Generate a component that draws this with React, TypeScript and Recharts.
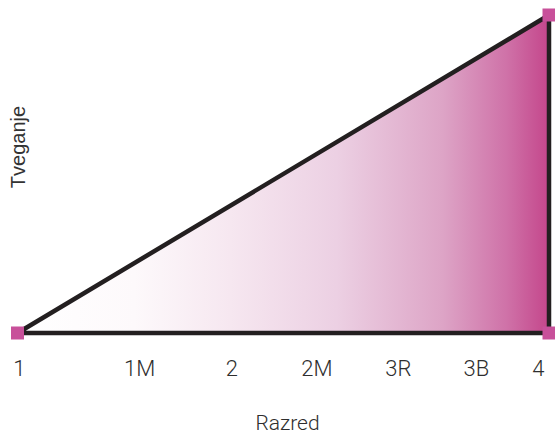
import React from 'react';
import { ComposedChart, Area, Line, Scatter, XAxis, YAxis } from 'recharts';

const areaData = [
  { x: 1, y: 0 },
  { x: 4, y: 1 },
];

const outlineData = [
  { x: 1, y: 0 },
  { x: 4, y: 1 },
  { x: 4, y: 0 },
  { x: 1, y: 0 },
];

const markerData = [
  { x: 1, y: 0 },
  { x: 4, y: 1 },
  { x: 4, y: 0 },
];

const tickValues = [1.01, 1.69, 2.21, 2.69, 3.15, 3.59, 3.94];
const tickLabels = ['1', '1M', '2', '2M', '3R', '3B', '4'];
const xTitle = 'Razred';
const yTitle = 'Tveganje';

const TickLabel = (props: any) => {
  const { x, payload } = props;
  const idx = tickValues.indexOf(payload.value);
  return (
    <text
      x={x}
      y={376}
      textAnchor="middle"
      fontFamily="Roboto"
      fontWeight={300}
      fontSize={22}
      fill="#2e2e2e"
    >
      {tickLabels[idx]}
    </text>
  );
};

const Square = (props: any) => {
  const { cx, cy } = props;
  return <rect x={cx - 6.5} y={cy - 6.5} width={13} height={13} fill="#c8509a" />;
};

const Titles = () => (
  <g>
    <text x={287.5} y={429.5} textAnchor="middle" fontFamily="Roboto" fontWeight={300} fontSize={21} fill="#2e2e2e">
      {xTitle}
    </text>
    <text
      x={0}
      y={0}
      transform="translate(24.5,147) rotate(-90)"
      textAnchor="middle"
      fontFamily="Liberation Sans"
      fontSize={20}
      fill="#333333"
    >
      {yTitle}
    </text>
  </g>
);

export default function App() {
  return (
    <div style={{ position: 'absolute', left: 0, top: 0, width: 555, height: 433, background: '#fff' }}>
      <ComposedChart
        width={555}
        height={433}
        margin={{ top: 15, right: 6, bottom: 40, left: 17.5 }}
      >
        <defs>
          <linearGradient id="riskGrad" x1="0" y1="0" x2="1" y2="0">
            <stop offset="0%" stopColor="#ffffff" />
            <stop offset="22%" stopColor="#fdf9fb" />
            <stop offset="40%" stopColor="#f6e7f0" />
            <stop offset="60%" stopColor="#ecd0e3" />
            <stop offset="80%" stopColor="#dda4c6" />
            <stop offset="92%" stopColor="#cf72a8" />
            <stop offset="100%" stopColor="#c4468b" />
          </linearGradient>
        </defs>
        <XAxis
          dataKey="x"
          type="number"
          domain={[1, 4]}
          ticks={tickValues}
          interval={0}
          axisLine={false}
          tickLine={false}
          height={60}
          tick={<TickLabel />}
          label={{ content: () => <Titles /> }}
        />
        <YAxis type="number" domain={[0, 1]} hide />
        <Area
          data={areaData}
          dataKey="y"
          type="linear"
          stroke="none"
          fill="url(#riskGrad)"
          fillOpacity={1}
          isAnimationActive={false}
        />
        <Line
          data={outlineData}
          dataKey="y"
          type="linear"
          stroke="#231f20"
          strokeWidth={4.5}
          dot={false}
          activeDot={false}
          isAnimationActive={false}
        />
        <Scatter data={markerData} dataKey="y" shape={<Square />} isAnimationActive={false} />
      </ComposedChart>
    </div>
  );
}
